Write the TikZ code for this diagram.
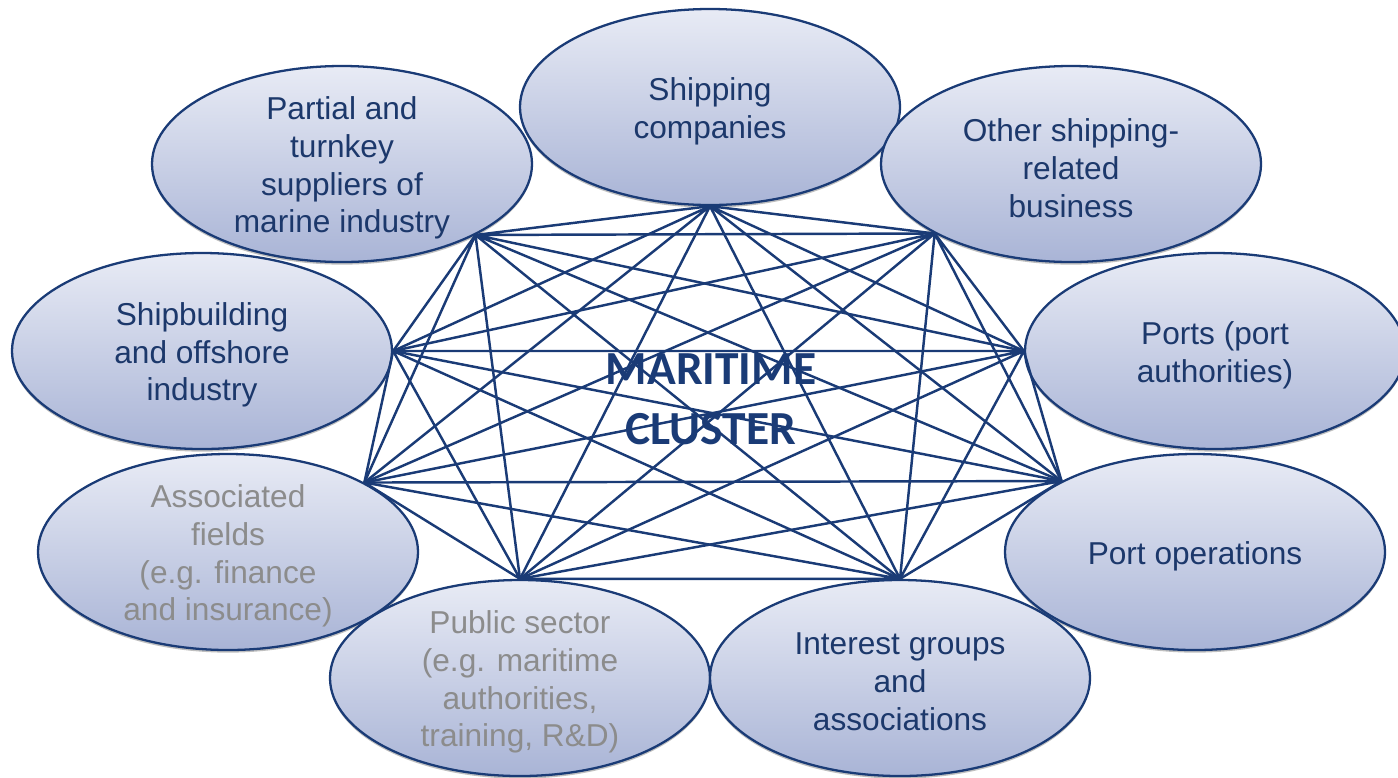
\documentclass[tikz,border=0pt]{standalone}
\usepackage{fontspec}
\setmainfont{Liberation Sans}
\newfontfamily\clusterfont{Carlito}
\usetikzlibrary{shapes.geometric,shadows}
\definecolor{navy}{HTML}{1A3B76}
\definecolor{txtblue}{HTML}{1C386B}
\definecolor{txtgray}{HTML}{8C8C8C}
\definecolor{bubtop}{HTML}{E8EBF5}
\definecolor{bubbot}{HTML}{A9B4D6}

\begin{document}
\begin{tikzpicture}[x=0.2mm, y=-0.2mm,
    bubble/.style = {draw=navy, line width=1.3pt, ellipse, minimum width=76mm, minimum height=39.2mm,
                     top color=bubtop, bottom color=bubbot,
                     drop shadow={shadow xshift=0pt, shadow yshift=-1.5pt, opacity=0.25, fill=black}},
    txt/.style = {align=center, text=txtblue, yshift=-0.8mm, font=\fontsize{18}{21.5}\selectfont},
    grey/.style = {txt, text=txtgray},
    link/.style = {draw=navy, line width=1.4pt}]
    \useasboundingbox (0,0) rectangle (1398,777);

    % Ellissi del cluster
    \node[bubble] (part) at (342,164) {};
    \node[bubble] (ship) at (710,107) {};
    \node[bubble] (other) at (1071,164) {};
    \node[bubble] (ports) at (1215,351) {};
    \node[bubble] (portops) at (1195,552) {};
    \node[bubble] (build) at (202,351) {};
    \node[bubble] (assoc) at (228,552) {};
    \node[bubble] (pub) at (520,678) {};
    \node[bubble] (intr) at (900,678) {};

    \node[txt] (part-t) at (part) {Partial and\\turnkey\\suppliers of\\marine industry};
    \node[txt] (ship-t) at (ship) {Shipping\\companies};
    \node[txt] (other-t) at (other) {Other shipping-\\related\\business};
    \node[txt] (ports-t) at (ports) {Ports (port\\authorities)};
    \node[txt] (portops-t) at (portops) {Port operations};
    \node[txt] (build-t) at (build) {Shipbuilding\\and offshore\\industry};
    \node[grey] (assoc-t) at (assoc) {Associated\\fields\\(e.g. finance\\and insurance)};
    \node[grey] (pub-t) at (pub) {Public sector\\(e.g. maritime\\authorities,\\training, R\&D)};
    \node[txt] (intr-t) at (intr) {Interest groups\\and\\associations};

    % Collegamenti tra tutti i nodi
    \draw[link] (part.-28) -- (ship.south) (part.-28) -- (other.-153) (part.-28) -- (ports.west)
                (part.-28) -- (portops.152) (part.-28) -- (intr.north) (part.-28) -- (pub.north)
                (part.-28) -- (assoc.27) (part.-28) -- (build.east);
    \draw[link] (ship.south) -- (other.-153) (ship.south) -- (ports.west) (ship.south) -- (portops.152)
                (ship.south) -- (intr.north) (ship.south) -- (pub.north) (ship.south) -- (assoc.27)
                (ship.south) -- (build.east);
    \draw[link] (other.-153) -- (ports.west) (other.-153) -- (portops.152) (other.-153) -- (intr.north)
                (other.-153) -- (pub.north) (other.-153) -- (assoc.27) (other.-153) -- (build.east);
    \draw[link] (ports.west) -- (portops.152) (ports.west) -- (intr.north) (ports.west) -- (pub.north)
                (ports.west) -- (assoc.27) (ports.west) -- (build.east);
    \draw[link] (portops.152) -- (intr.north) (portops.152) -- (pub.north) (portops.152) -- (assoc.27)
                (portops.152) -- (build.east);
    \draw[link] (intr.north) -- (pub.north) (intr.north) -- (assoc.27) (intr.north) -- (build.east);
    \draw[link] (pub.north) -- (assoc.27) (pub.north) -- (build.east);
    \draw[link] (assoc.27) -- (build.east);

    \node[text=navy, align=center, font=\clusterfont\bfseries\fontsize{27}{34}\selectfont] (clus) at (711,399) {MARITIME\\CLUSTER};

\end{tikzpicture}
\end{document}
